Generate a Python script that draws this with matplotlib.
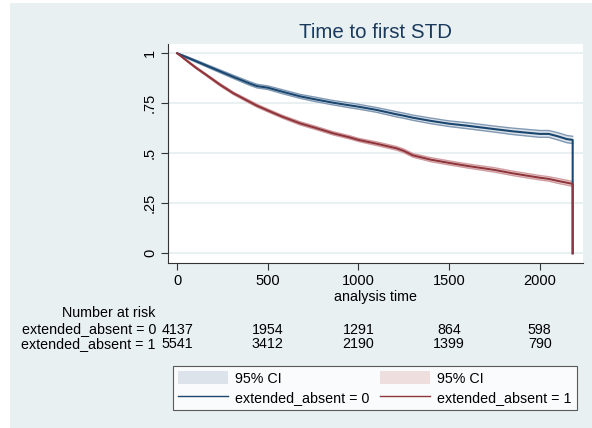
import numpy as np
import matplotlib
matplotlib.use("Agg")
import matplotlib.pyplot as plt
from matplotlib.patches import Patch, Rectangle
from matplotlib.lines import Line2D
from matplotlib.transforms import blended_transform_factory

plt.rcParams['font.family'] = ['Liberation Sans', 'DejaVu Sans']

# Kaplan-Meier estimates
times = [0, 50, 100, 160, 236, 310, 400, 440, 500, 580, 677, 760, 860, 950, 1000,
         1100, 1210, 1250, 1300, 1400, 1500, 1600, 1750, 1850, 2000, 2050, 2100,
         2150, 2182]
surv0 = [1.0, 0.981, 0.962, 0.939, 0.910, 0.882, 0.849, 0.836, 0.828, 0.808, 0.785,
         0.770, 0.753, 0.740, 0.733, 0.717, 0.695, 0.688, 0.678, 0.662, 0.648, 0.638,
         0.621, 0.610, 0.597, 0.597, 0.585, 0.571, 0.567]
surv1 = [1.0, 0.965, 0.930, 0.892, 0.843, 0.800, 0.757, 0.738, 0.714, 0.683, 0.650,
         0.628, 0.600, 0.580, 0.567, 0.548, 0.525, 0.512, 0.490, 0.468, 0.452, 0.437,
         0.417, 0.400, 0.378, 0.372, 0.362, 0.353, 0.347]
# half width of the 95% CI band
ci0 = [0.0, 0.004, 0.005, 0.006, 0.007, 0.008, 0.009, 0.009, 0.009, 0.010, 0.010,
       0.011, 0.011, 0.012, 0.012, 0.012, 0.013, 0.013, 0.013, 0.014, 0.014, 0.015,
       0.015, 0.016, 0.017, 0.017, 0.018, 0.018, 0.018]
ci1 = [0.0, 0.003, 0.004, 0.005, 0.006, 0.006, 0.007, 0.007, 0.007, 0.007, 0.008,
       0.008, 0.008, 0.008, 0.008, 0.009, 0.009, 0.009, 0.009, 0.010, 0.010, 0.010,
       0.011, 0.011, 0.011, 0.011, 0.012, 0.012, 0.012]

risk_times = [0, 500, 1000, 1500, 2000]
risk0 = [4137, 1954, 1291, 864, 598]
risk1 = [5541, 3412, 2190, 1399, 790]
group_labels = ["extended_absent = 0", "extended_absent = 1"]

W, H = 592, 428
fig = plt.figure(figsize=(W / 100, H / 100), dpi=100, facecolor="white")
bg = "#e8f0f2"
fig.patches.append(Rectangle((10 / W, 0), 1 - 10 / W, 1 - 3 / H, transform=fig.transFigure,
                             facecolor=bg, edgecolor="none", zorder=-10))

ax = fig.add_axes([168 / W, 1 - 263 / H, (583 - 168) / W, (263 - 44) / H])
ax.set_facecolor("white")

blue, red = "#1a476f", "#90353b"
blue_fill, red_fill = "#dde3eb", "#efdede"
blue_edge, red_edge = "#8299b3", "#d09ca0"

for t, s, c, col, fill, edge in [(times, surv0, ci0, blue, blue_fill, blue_edge),
                                 (times, surv1, ci1, red, red_fill, red_edge)]:
    s = np.array(s)
    c = np.array(c)
    lo, hi = s - c, s + c
    ax.fill_between(t, lo, hi, color=fill, lw=0, zorder=2)
    ax.plot(t, lo, color=edge, lw=1.0, zorder=3)
    ax.plot(t, hi, color=edge, lw=1.0, zorder=3)
    ax.plot(t + [t[-1]], list(s) + [0], color=col, lw=1.5, zorder=4)

ax.set_xlim(-51, 2239)
ax.set_ylim(-0.0485, 1.0465)
ax.set_yticks([0, 0.25, 0.5, 0.75, 1])
ax.set_yticklabels(["0", ".25", ".5", ".75", "1"], rotation=90, va="center")
ax.set_xticks([0, 500, 1000, 1500, 2000])
ax.grid(axis="y", color=bg, lw=1.5)
ax.set_axisbelow(True)
for side in ["top", "right"]:
    ax.spines[side].set_visible(False)
for side in ["left", "bottom"]:
    ax.spines[side].set_color("#333333")
    ax.spines[side].set_linewidth(0.8)
ax.tick_params(length=5, width=0.8, color="#333333", labelsize=10.5, labelcolor="black")
ax.tick_params(axis="y", pad=3)
ax.tick_params(axis="x", pad=3)
ax.set_xlabel("analysis time", fontsize=10.3, labelpad=1)

fig.text(375.5 / W, 1 - 37.7 / H, "Time to first STD", ha="center", va="baseline",
         fontsize=14.8, color="#1a3a5c")

# number at risk table
fig.text(109 / W, 1 - 313 / H, "Number at risk", ha="center", va="center", fontsize=10.3)
tr = blended_transform_factory(ax.transData, fig.transFigure)
for row_y, lab, counts in [(329.5, group_labels[0], risk0), (344.5, group_labels[1], risk1)]:
    fig.text(156 / W, 1 - row_y / H, lab, ha="right", va="center", fontsize=10.3)
    for t, n in zip(risk_times, counts):
        ax.text(t, 1 - row_y / H, str(n), transform=tr, ha="center", va="center",
                fontsize=10.3, clip_on=False)

handles = [Patch(facecolor=blue_fill, edgecolor="none"),
           Line2D([], [], color=blue, lw=1.0),
           Patch(facecolor=red_fill, edgecolor="none"),
           Line2D([], [], color=red, lw=1.0)]
labels = ["95% CI", group_labels[0], "95% CI", group_labels[1]]
leg = fig.legend(handles, labels, ncol=2, loc="lower left", mode="expand",
                 bbox_to_anchor=(173 / W, 1 - 410 / H, 404 / W, 48 / H),
                 fontsize=10.3, frameon=True, fancybox=False, handlelength=3.5,
                 handleheight=1.0, handletextpad=0.5, borderpad=0.35, labelspacing=0.35,
                 borderaxespad=0, columnspacing=1.0)
leg.get_frame().set_edgecolor("#333333")
leg.get_frame().set_linewidth(0.8)

fig.savefig("out.png", dpi=100, facecolor=fig.get_facecolor())
